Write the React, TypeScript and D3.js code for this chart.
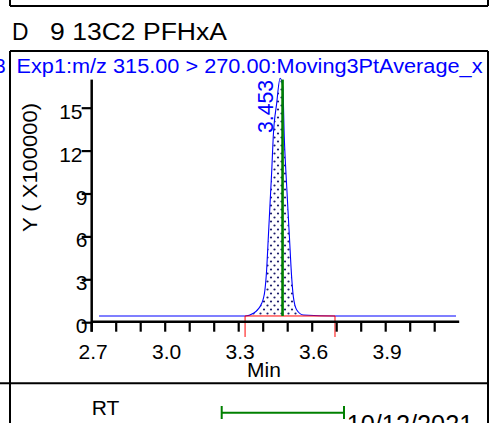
import React from "react";
import * as d3 from "d3";

// ---- data ----
const times = [2.73, 3.326, 3.36, 3.394, 3.407, 3.414, 3.421, 3.428, 3.435, 3.441, 3.455, 3.469, 3.48, 3.486, 3.496, 3.507, 3.516, 3.523, 3.537, 3.564, 3.693, 4.187];
const intensity = [0.47, 0.47, 0.66, 1.36, 2.29, 3.69, 6.01, 8.35, 10.68, 13.0, 15.34, 17.09, 16.5, 13.0, 9.51, 6.01, 3.22, 1.82, 0.89, 0.54, 0.47, 0.47];
const xTicks = [2.7, 2.8, 2.9, 3.0, 3.1, 3.2, 3.3, 3.4, 3.5, 3.6, 3.7, 3.8, 3.9, 4.0, 4.1];
const xTickLabels = ["2.7", "3.0", "3.3", "3.6", "3.9"];
const yTicks = [0, 3, 6, 9, 12, 15];
const integStart = 3.326;
const integEnd = 3.693;
const baselineLevel = 0.47;
const expectedRT = 3.479;
const peakLabel = "3.453";
const compoundId = "D";
const compoundName = "9 13C2 PFHxA";
const headerText = "Exp1:m/z 315.00 > 270.00:Moving3PtAverage_x";
const yAxisTitle = "Y ( X100000)";
const xAxisTitle = "Min";
const dateText = "10/12/2021";

const FONT = "'Liberation Sans', Arial, sans-serif";

export default function App() {
  const x = d3.scaleLinear().domain([2.7, 4.2]).range([91.7, 459.2]);
  const y = d3.scaleLinear().domain([0, 17]).range([322.7, 79.6]);
  const pts = times.map((t, i) => ({ t, v: intensity[i] }));

  const line = d3
    .line<{ t: number; v: number }>()
    .x((d) => x(d.t))
    .y((d) => y(d.v))
    .curve(d3.curveMonotoneX);

  const inside = pts.filter((d) => d.t >= integStart && d.t <= integEnd);
  const area = d3
    .area<{ t: number; v: number }>()
    .x((d) => x(d.t))
    .y0(y(baselineLevel))
    .y1((d) => y(d.v))
    .curve(d3.curveMonotoneX);

  const axisY = y(0) - 1;
  const bl = y(baselineLevel);

  return (
    <div style={{ position: "fixed", left: 0, top: 0 }}>
      <svg width={501} height={423} style={{ display: "block", background: "#fff" }} fontFamily={FONT}>
        <defs>
          <pattern id="dots" width={7} height={8} patternUnits="userSpaceOnUse">
            <rect width={7} height={8} fill="#fff" />
            <circle cx={1.5} cy={1.5} r={1.1} fill="#1c1c6b" />
            <circle cx={5} cy={5.5} r={1.1} fill="#1c1c6b" />
          </pattern>
        </defs>

        {/* frames */}
        <line x1={10} y1={0} x2={10} y2={6} stroke="#000" strokeWidth={2} />
        <line x1={488} y1={0} x2={488} y2={6} stroke="#000" strokeWidth={2} />
        <line x1={10} y1={6} x2={488} y2={6} stroke="#000" strokeWidth={2} />
        <line x1={10} y1={51} x2={488} y2={51} stroke="#000" strokeWidth={2} />
        <line x1={10} y1={51} x2={10} y2={423} stroke="#000" strokeWidth={2} />
        <line x1={488} y1={51} x2={488} y2={423} stroke="#000" strokeWidth={2} />
        <line x1={0} y1={383.3} x2={488} y2={383.3} stroke="#000" strokeWidth={2} />

        {/* title */}
        <text x={12} y={39.5} fontSize={23} textLength={16.5} lengthAdjust="spacingAndGlyphs">{compoundId}</text>
        <text x={50} y={39.5} fontSize={23} textLength={177} lengthAdjust="spacingAndGlyphs">{compoundName}</text>

        {/* header */}
        <text x={5.5} y={73} fontSize={20} fill="#0000ff" textAnchor="end">3</text>
        <text x={16.5} y={73} fontSize={20} fill="#0000ff" textLength={466} lengthAdjust="spacingAndGlyphs">{headerText}</text>

        {/* y axis title */}
        <text transform={`translate(37,167.5) rotate(-90)`} fontSize={21} textAnchor="middle" textLength={129} lengthAdjust="spacingAndGlyphs">{yAxisTitle}</text>

        {/* peak fill */}
        <path d={area(inside) || ""} fill="url(#dots)" stroke="none" />
        {/* trace */}
        <path d={line(pts) || ""} fill="none" stroke="#0000ff" strokeWidth={1.1} />

        {/* integration baseline */}
        <line x1={x(integStart)} y1={bl} x2={x(integEnd)} y2={bl} stroke="#ff0000" strokeWidth={1} />
        <line x1={x(integStart)} y1={bl} x2={x(integStart)} y2={bl + 21} stroke="#ff0000" strokeWidth={1} />
        <line x1={x(integEnd)} y1={bl} x2={x(integEnd)} y2={bl + 21} stroke="#ff0000" strokeWidth={1} />

        {/* expected RT */}
        <line x1={x(expectedRT)} y1={bl} x2={x(expectedRT)} y2={y(17)} stroke="#008000" strokeWidth={2.6} />

        {/* peak label */}
        <text transform={`translate(273.3,133) rotate(-90)`} fontSize={22} fill="#0000ff" textLength={53} lengthAdjust="spacingAndGlyphs">{peakLabel}</text>

        {/* axes */}
        <line x1={x(2.7)} y1={axisY} x2={x(4.2)} y2={axisY} stroke="#000" strokeWidth={2.5} />
        <line x1={x(2.7)} y1={y(17)} x2={x(2.7)} y2={axisY + 10} stroke="#000" strokeWidth={2.5} />
        {xTicks.map((t) => (
          <line key={t} x1={x(t)} y1={axisY} x2={x(t)} y2={axisY + 10} stroke="#000" strokeWidth={2.2} />
        ))}
        {xTickLabels.map((s) => (
          <text key={s} x={x(+s) + 1.5} y={358.5} fontSize={21} textAnchor="middle">{s}</text>
        ))}
        <text x={264} y={377} fontSize={21} textAnchor="middle">{xAxisTitle}</text>
        {yTicks.map((v) => (
          <g key={v}>
            <line x1={x(2.7) - 10} y1={y(v)} x2={x(2.7)} y2={y(v)} stroke="#000" strokeWidth={2.2} />
            <text x={String(v).length > 1 ? 82.5 : 87.5} y={y(v) + 10.5} fontSize={21} textAnchor="end">{v}</text>
          </g>
        ))}

        {/* bottom section */}
        <text x={91.7} y={415} fontSize={21}>RT</text>
        <line x1={221.7} y1={412.7} x2={344} y2={412.7} stroke="#008000" strokeWidth={2} />
        <line x1={221.7} y1={406} x2={221.7} y2={419} stroke="#008000" strokeWidth={2} />
        <line x1={344} y1={406} x2={344} y2={419} stroke="#008000" strokeWidth={2} />
        <text x={346.7} y={433} fontSize={25} textLength={126.6} lengthAdjust="spacingAndGlyphs">{dateText}</text>
      </svg>
    </div>
  );
}
